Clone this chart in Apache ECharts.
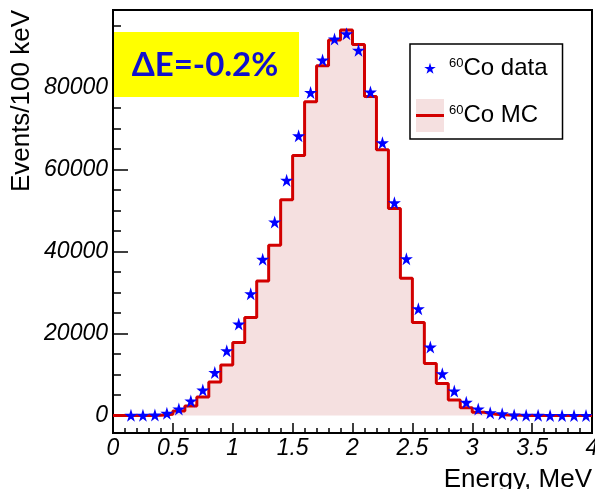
<!DOCTYPE html>
<html>
<head>
<meta charset="utf-8">
<script src="https://cdn.jsdelivr.net/npm/echarts@6/dist/echarts.min.js"></script>
<style>html,body{margin:0;padding:0;background:#fff}#c{width:595px;height:489px}</style>
</head>
<body>
<div id="c"></div>
<script>
// ---- data (100 keV bins from 0 to 4 MeV) ----
const binWidth = 0.1;
const mcCounts = [0, 0, 0, 50, 300, 1100, 2300, 4500, 8150, 12300,
  17800, 23900, 32800, 41550, 52600, 63400, 76500, 85300, 91600, 94000,
  90500, 77800, 64800, 50500, 33500, 22700, 12700, 7800, 3780, 1900,
  770, 300, 120, 50, 20, 10, 0, 0, 0, 0];
const dataCounts = [null, 30, 60, 120, 540, 1600, 3550, 6200, 10500, 15800,
  22300, 29700, 38100, 47200, 57400, 68200, 78800, 86700, 91800, 93100,
  89100, 78900, 66500, 51900, 38250, 26050, 16700, 10200, 5980, 3200,
  1600, 650, 400, 100, 40, 30, 20, 20, 10, 10];
const seriesNames = ['60Co data', '60Co MC'];
const annotation = 'ΔE=-0.2%';
const xTitle = 'Energy, MeV';
const yTitle = 'Events/100 keV';

// ---- build series ----
const mcLine = mcCounts.map((v, i) => [i * binWidth, v]);
mcLine.push([mcCounts.length * binWidth, mcCounts[mcCounts.length - 1]]);
const dataPts = [];
dataCounts.forEach((v, i) => { if (v !== null) dataPts.push([(i + 0.5) * binWidth, v]); });

const STAR_PTS = [[50,0],[61,35],[98,35],[68,57],[79,91],[50,70],[21,91],[32,57],[2,35],[39,35]];
const STAR = 'path://M' + STAR_PTS.map(p => p.join(',')).join(' L') + ' Z';
const FONT = 'Liberation Sans';
const RED = '#d20000';
const BLUE = '#0000ff';
const FILL = '#f5e0e0';

const chart = echarts.init(document.getElementById('c'), null, {renderer: 'canvas'});

const legLeft = 410, legTop = 44, padT = 8, padL = 6, itemW = 28, itemH = 33, gap = 14;
const starCx = legLeft + padL + itemW / 2, starCy = legTop + padT + itemH / 2, starS = 12;
const legendStar = STAR_PTS.map(p => [starCx + (p[0] - 50) / 100 * starS, starCy + (p[1] - 48) / 100 * starS]);
const mcLineY = legTop + padT + itemH + gap + itemH / 2;

chart.setOption({
  animation: false,
  backgroundColor: '#fff',
  grid: {left: 113, right: 3, top: 10, bottom: 56, show: true, borderColor: '#000', borderWidth: 2,
    backgroundColor: 'transparent', containLabel: false, outerBoundsMode: 'none'},
  xAxis: {
    type: 'value', min: 0, max: 4, interval: 0.5,
    name: xTitle, nameLocation: 'end', nameGap: 0, nameMoveOverlap: false,
    nameTextStyle: {fontFamily: FONT, fontSize: 26, color: '#000', align: 'right', verticalAlign: 'top', padding: [34, 0, 0, 0]},
    axisLine: {show: true, onZero: false, lineStyle: {color: '#000', width: 2}},
    axisTick: {show: true, inside: true, length: 10, lineStyle: {color: '#000', width: 1.5}},
    minorTick: {show: true, splitNumber: 5, length: 5, lineStyle: {color: '#000', width: 1.5}},
    splitLine: {show: false},
    axisLabel: {fontFamily: FONT, fontStyle: 'italic', fontSize: 23, color: '#000', margin: 4,
      showMinLabel: true, showMaxLabel: true, formatter: v => String(v)}
  },
  yAxis: {
    type: 'value', min: -4270, max: 98900, splitNumber: 5,
    name: yTitle, nameLocation: 'end', nameGap: 0, nameRotate: 90, nameMoveOverlap: false,
    nameTextStyle: {fontFamily: FONT, fontSize: 26, color: '#000', align: 'right', verticalAlign: 'bottom', padding: [0, 0, 78, 0]},
    axisLine: {show: true, onZero: false, lineStyle: {color: '#000', width: 2}},
    axisTick: {show: true, inside: true, length: 15, lineStyle: {color: '#000', width: 1.5}},
    minorTick: {show: true, splitNumber: 4, length: 8, lineStyle: {color: '#000', width: 1.5}},
    splitLine: {show: false},
    axisLabel: {fontFamily: FONT, fontStyle: 'italic', fontSize: 23, color: '#000', margin: 5,
      formatter: v => (Math.abs(v % 20000) < 1e-6 ? String(v) : '')}
  },
  legend: {
    left: legLeft, top: legTop, orient: 'vertical',
    padding: [padT, 15, 7, padL],
    itemWidth: itemW, itemHeight: itemH, itemGap: gap, itemTextGap: 7,
    borderColor: '#000', borderWidth: 1.5, backgroundColor: '#fff', borderRadius: 0,
    selectedMode: false,
    textStyle: {fontFamily: FONT, fontSize: 24, color: '#000',
      rich: {sup: {fontFamily: FONT, fontSize: 13, color: '#000', verticalAlign: 'top'}}},
    formatter: name => '{sup|' + name.slice(0, 2) + '}' + name.slice(2),
    data: [
      {name: seriesNames[0], icon: 'rect', itemStyle: {opacity: 0}},
      {name: seriesNames[1], icon: 'rect', itemStyle: {color: FILL, borderWidth: 0, opacity: 1}}
    ]
  },
  series: [
    {
      name: seriesNames[1], type: 'line', step: 'end', data: mcLine,
      showSymbol: false, symbol: 'none', z: 2,
      lineStyle: {color: RED, width: 3},
      itemStyle: {color: RED},
      areaStyle: {color: FILL, opacity: 1}
    },
    {
      name: seriesNames[0], type: 'scatter', data: dataPts, z: 3,
      symbol: STAR, symbolSize: 13,
      itemStyle: {color: BLUE, opacity: 1}
    }
  ],
  graphic: [
    {type: 'rect', z: 100, shape: {x: 114, y: 32, width: 185, height: 65}, style: {fill: '#ffff00'}},
    {type: 'text', z: 101, x: 205, y: 65, style: {text: annotation, font: 'bold 33px Lato', fill: '#1010cc', align: 'center', verticalAlign: 'middle'}},
    {type: 'polygon', z: 101, shape: {points: legendStar}, style: {fill: BLUE}},
    {type: 'line', z: 101, shape: {x1: legLeft + padL, y1: mcLineY, x2: legLeft + padL + itemW, y2: mcLineY}, style: {stroke: RED, lineWidth: 3}}
  ]
});
</script>
</body>
</html>
